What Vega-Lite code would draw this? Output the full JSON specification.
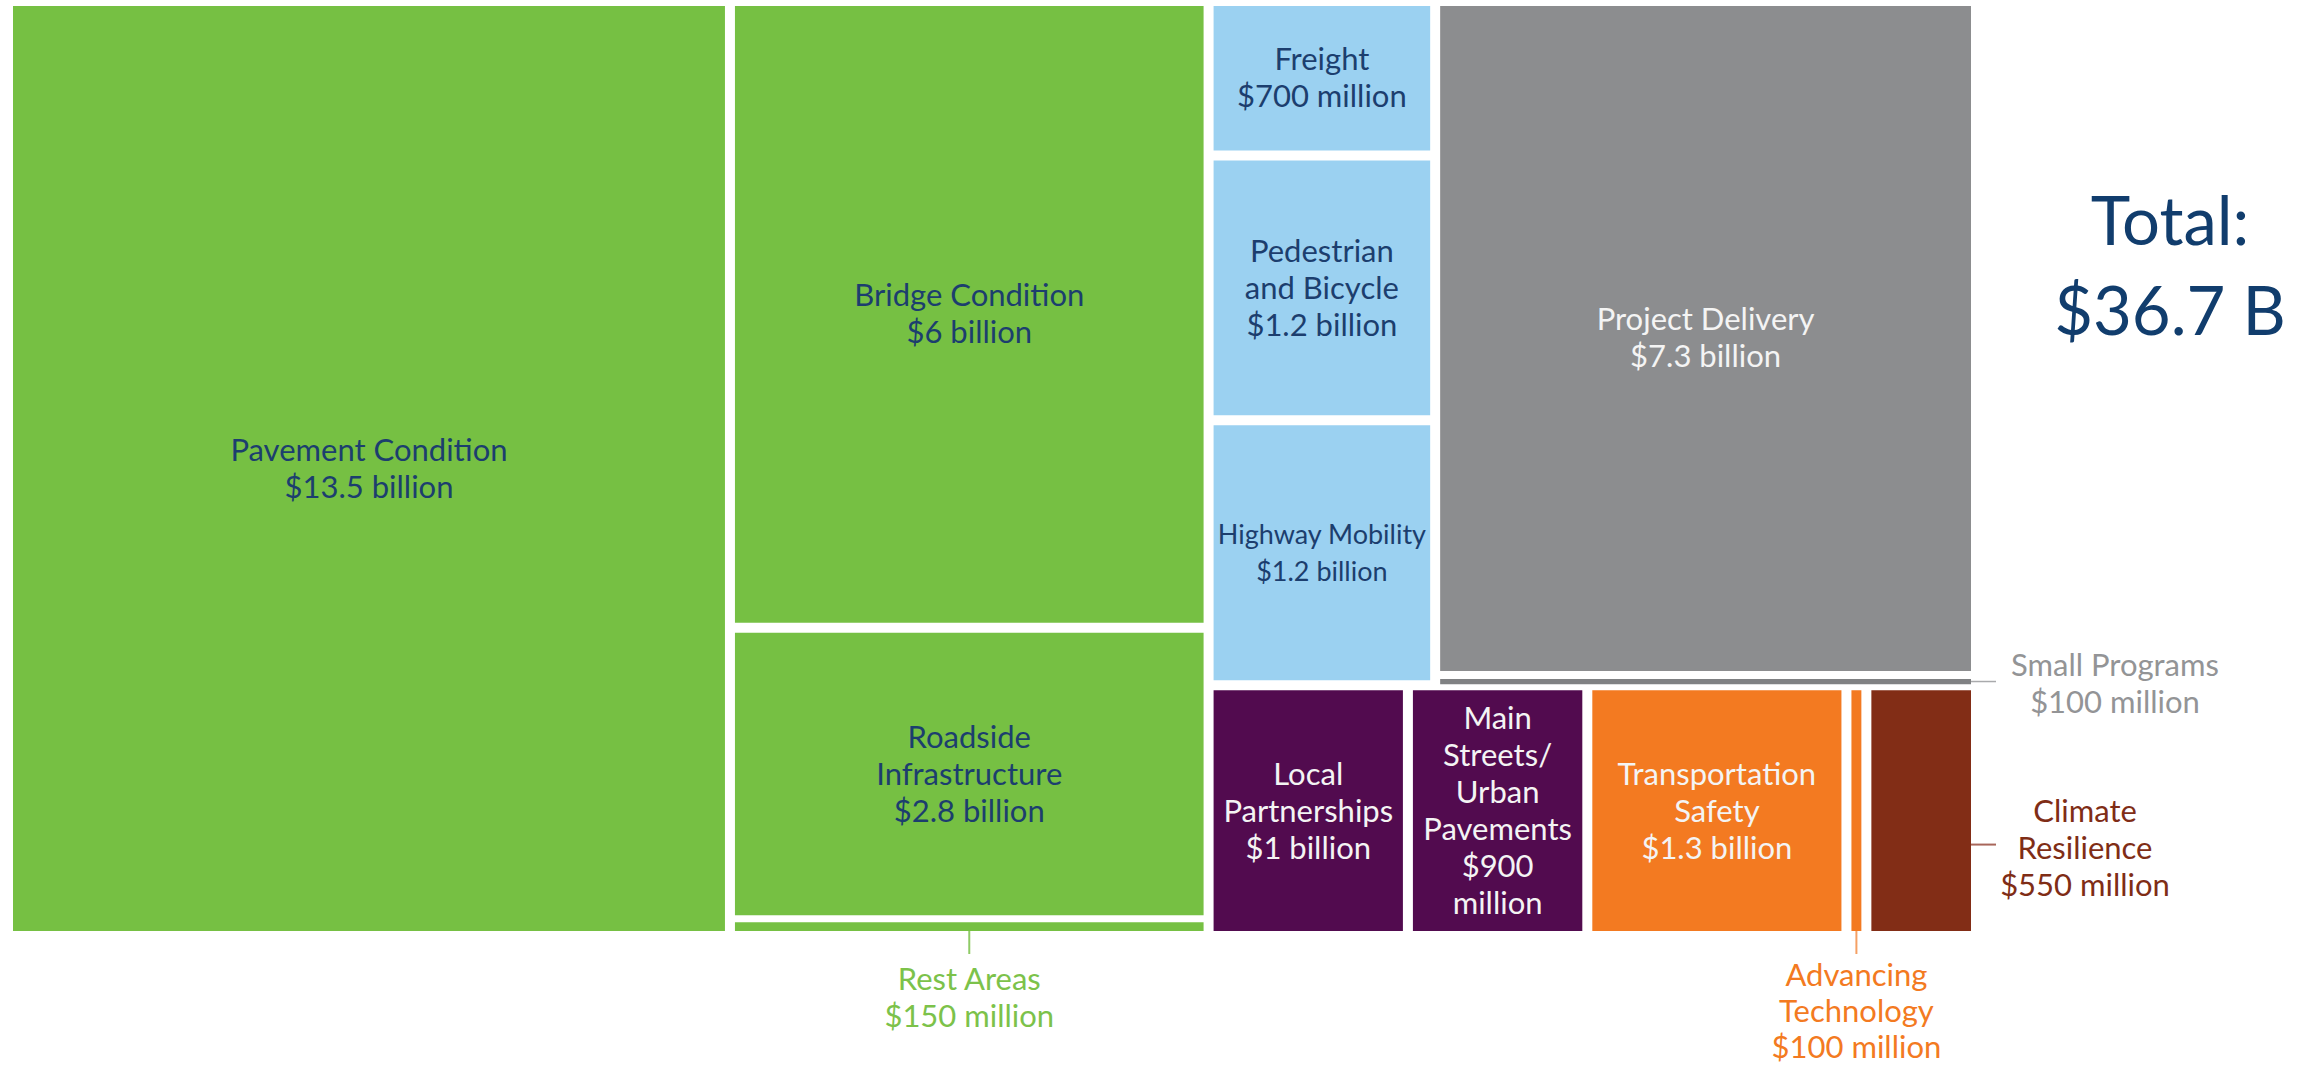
{
  "$schema": "https://vega.github.io/schema/vega-lite/v6.json",
  "width": 1968,
  "height": 935,
  "autosize": {"type": "none"},
  "padding": {"left": 8, "top": 1, "right": 342, "bottom": 133},
  "background": "#ffffff",
  "config": {"view": {"stroke": null}, "font": "Lato"},
  "title": {
    "text": ["Total:", "$36.7 B"],
    "orient": "top",
    "anchor": "end",
    "frame": "group",
    "align": "center",
    "baseline": "top",
    "offset": 0,
    "dx": 194,
    "dy": 348,
    "font": "Lato",
    "fontSize": 67,
    "fontWeight": "normal",
    "lineHeight": 90,
    "color": "#113d6d"
  },
  "data": {
    "values": [
      {"o": 1, "name": "Pavement Condition", "label": "Pavement Condition\n$13.5 billion", "value": 13.5, "group": "Asset condition", "col": "A", "band": "A", "sub": "A"},
      {"o": 2, "name": "Bridge Condition", "label": "Bridge Condition\n$6 billion", "value": 6, "group": "Asset condition", "col": "B", "band": "B", "sub": "B"},
      {"o": 3, "name": "Roadside Infrastructure", "label": "Roadside\nInfrastructure\n$2.8 billion", "value": 2.8, "group": "Asset condition", "col": "B", "band": "B", "sub": "B"},
      {"o": 4, "name": "Rest Areas", "label": "Rest Areas\n$150 million", "value": 0.15, "group": "Asset condition", "col": "B", "band": "B", "sub": "B"},
      {"o": 5, "name": "Freight", "label": "Freight\n$700 million", "value": 0.7, "group": "Mobility", "col": "C", "band": "top", "sub": "S1"},
      {"o": 6, "name": "Pedestrian and Bicycle", "label": "Pedestrian\nand Bicycle\n$1.2 billion", "value": 1.2, "group": "Mobility", "col": "C", "band": "top", "sub": "S1"},
      {"o": 7, "name": "Highway Mobility", "label": "Highway Mobility\n$1.2 billion", "value": 1.2, "group": "Mobility", "col": "C", "band": "top", "sub": "S1"},
      {"o": 8, "name": "Project Delivery", "label": "Project Delivery\n$7.3 billion", "value": 7.3, "group": "Delivery", "col": "C", "band": "top", "sub": "S2"},
      {"o": 9, "name": "Small Programs", "label": "Small Programs\n$100 million", "value": 0.1, "group": "Delivery", "col": "C", "band": "top", "sub": "S2"},
      {"o": 10, "name": "Local Partnerships", "label": "Local\nPartnerships\n$1 billion", "value": 1, "group": "Local", "col": "C", "band": "bottom", "sub": "L1"},
      {"o": 11, "name": "Main Streets/Urban Pavements", "label": "Main\nStreets/\nUrban\nPavements\n$900\nmillion", "value": 0.9, "group": "Local", "col": "C", "band": "bottom", "sub": "L2"},
      {"o": 12, "name": "Transportation Safety", "label": "Transportation\nSafety\n$1.3 billion", "value": 1.3, "group": "Safety and technology", "col": "C", "band": "bottom", "sub": "L3"},
      {"o": 13, "name": "Advancing Technology", "label": "Advancing\nTechnology\n$100 million", "value": 0.1, "group": "Safety and technology", "col": "C", "band": "bottom", "sub": "L4"},
      {"o": 14, "name": "Climate Resilience", "label": "Climate\nResilience\n$550 million", "value": 0.55, "group": "Resilience", "col": "C", "band": "bottom", "sub": "L5"}
    ]
  },
  "transform": [
    {"joinaggregate": [{"op": "sum", "field": "value", "as": "T"}]},
    {"joinaggregate": [{"op": "sum", "field": "value", "as": "CS"}], "groupby": ["col"]},
    {"joinaggregate": [{"op": "sum", "field": "value", "as": "BS"}], "groupby": ["col", "band"]},
    {"joinaggregate": [{"op": "sum", "field": "value", "as": "SS"}], "groupby": ["col", "band", "sub"]},
    {"window": [{"op": "sum", "field": "value", "as": "cA"}], "sort": [{"field": "o"}], "frame": [null, 0]},
    {"window": [{"op": "sum", "field": "value", "as": "cC"}], "groupby": ["col"], "sort": [{"field": "o"}], "frame": [null, 0]},
    {"window": [{"op": "sum", "field": "value", "as": "cB"}], "groupby": ["col", "band"], "sort": [{"field": "o"}], "frame": [null, 0]},
    {"window": [{"op": "sum", "field": "value", "as": "cS"}], "groupby": ["col", "band", "sub"], "sort": [{"field": "o"}], "frame": [null, 0]},
    {"calculate": "datum.cA - datum.value", "as": "pA"},
    {"calculate": "datum.cC - datum.value", "as": "pC"},
    {"calculate": "datum.cB - datum.value", "as": "pB"},
    {"joinaggregate": [{"op": "min", "field": "pA", "as": "colStart"}], "groupby": ["col"]},
    {"joinaggregate": [{"op": "min", "field": "pC", "as": "bandStart"}], "groupby": ["col", "band"]},
    {"joinaggregate": [{"op": "min", "field": "pB", "as": "subStart"}], "groupby": ["col", "band", "sub"]},
    {"calculate": "datum.colStart / datum.T", "as": "cx0"},
    {"calculate": "datum.CS / datum.T", "as": "cw"},
    {"calculate": "datum.bandStart / datum.CS", "as": "by0"},
    {"calculate": "datum.BS / datum.CS", "as": "bh"},
    {"calculate": "datum.cx0 + datum.cw * datum.subStart / datum.BS", "as": "x0"},
    {"calculate": "datum.cx0 + datum.cw * (datum.subStart + datum.SS) / datum.BS", "as": "x1"},
    {"calculate": "datum.by0 + datum.bh * (datum.cS - datum.value) / datum.SS", "as": "y0"},
    {"calculate": "datum.by0 + datum.bh * datum.cS / datum.SS", "as": "y1"},
    {"calculate": "(datum.x0 + datum.x1) / 2", "as": "xc"},
    {"calculate": "(datum.y0 + datum.y1) / 2", "as": "yc"},
    {"calculate": "length(split(datum.label, '\\n'))", "as": "nl"},
    {"calculate": "indexof(['Small Programs', 'Rest Areas', 'Advancing Technology', 'Climate Resilience'], datum.name) < 0", "as": "inside"}
  ],
  "layer": [
    {
      "transform": [{"filter": "datum.name !== 'Small Programs' && datum.name !== 'Rest Areas'"}],
      "mark": {"type": "rect", "xOffset": 5, "x2Offset": -5, "yOffset": 5, "y2Offset": -5},
      "encoding": {
        "x": {"field": "x0", "type": "quantitative", "scale": {"domain": [0, 1], "nice": false, "zero": false}, "axis": null},
        "x2": {"field": "x1"},
        "y": {"field": "y0", "type": "quantitative", "scale": {"domain": [0, 1], "nice": false, "zero": false, "reverse": true}, "axis": null},
        "y2": {"field": "y1"},
        "color": {
          "field": "group", "type": "nominal", "legend": null,
          "scale": {
            "domain": ["Asset condition", "Mobility", "Delivery", "Local", "Safety and technology", "Resilience"],
            "range": ["#76c043", "#9bd1f1", "#8c8d8f", "#520b4f", "#f37a21", "#822d16"]
          }
        }
      }
    },
    {
      "transform": [{"filter": "datum.name === 'Small Programs'"}],
      "mark": {"type": "rect", "xOffset": 5, "x2Offset": -5, "yOffset": 3, "y2Offset": -1, "color": "#808183"},
      "encoding": {
        "x": {"field": "x0", "type": "quantitative", "scale": {"domain": [0, 1], "nice": false, "zero": false}, "axis": null},
        "x2": {"field": "x1"},
        "y": {"field": "y0", "type": "quantitative", "scale": {"domain": [0, 1], "nice": false, "zero": false, "reverse": true}, "axis": null},
        "y2": {"field": "y1"}
      }
    },
    {
      "transform": [{"filter": "datum.name === 'Rest Areas'"}],
      "mark": {"type": "rect", "xOffset": 5, "x2Offset": -5, "yOffset": 2, "y2Offset": -5, "color": "#76c043"},
      "encoding": {
        "x": {"field": "x0", "type": "quantitative", "scale": {"domain": [0, 1], "nice": false, "zero": false}, "axis": null},
        "x2": {"field": "x1"},
        "y": {"field": "y0", "type": "quantitative", "scale": {"domain": [0, 1], "nice": false, "zero": false, "reverse": true}, "axis": null},
        "y2": {"field": "y1"}
      }
    },
    {
      "transform": [{"filter": "datum.inside && datum.nl === 2"}],
      "mark": {"type": "text", "align": "center", "baseline": "middle", "dy": -17, "font": "Lato", "fontSize": 31, "lineHeight": 37, "lineBreak": "\n"},
      "encoding": {
        "x": {"field": "xc", "type": "quantitative", "scale": {"domain": [0, 1], "nice": false, "zero": false}, "axis": null},
        "y": {"field": "yc", "type": "quantitative", "scale": {"domain": [0, 1], "nice": false, "zero": false, "reverse": true}, "axis": null},
        "text": {"field": "label"},
        "size": {"condition": {"test": "datum.name === 'Highway Mobility'", "value": 27}, "value": 31},
        "color": {
          "condition": {"test": "datum.group === 'Asset condition' || datum.group === 'Mobility'", "value": "#1c3e6e"},
          "value": "#f4f4f4"
        }
      }
    },
    {
      "transform": [{"filter": "datum.inside && datum.nl === 3"}],
      "mark": {"type": "text", "align": "center", "baseline": "middle", "dy": -35, "font": "Lato", "fontSize": 31, "lineHeight": 37, "lineBreak": "\n"},
      "encoding": {
        "x": {"field": "xc", "type": "quantitative", "scale": {"domain": [0, 1], "nice": false, "zero": false}, "axis": null},
        "y": {"field": "yc", "type": "quantitative", "scale": {"domain": [0, 1], "nice": false, "zero": false, "reverse": true}, "axis": null},
        "text": {"field": "label"},
        "color": {
          "condition": {"test": "datum.group === 'Asset condition' || datum.group === 'Mobility'", "value": "#1c3e6e"},
          "value": "#f4f4f4"
        }
      }
    },
    {
      "transform": [{"filter": "datum.inside && datum.nl === 6"}],
      "mark": {"type": "text", "align": "center", "baseline": "middle", "dy": -91, "font": "Lato", "fontSize": 31, "lineHeight": 37, "lineBreak": "\n", "color": "#f4f4f4"},
      "encoding": {
        "x": {"field": "xc", "type": "quantitative", "scale": {"domain": [0, 1], "nice": false, "zero": false}, "axis": null},
        "y": {"field": "yc", "type": "quantitative", "scale": {"domain": [0, 1], "nice": false, "zero": false, "reverse": true}, "axis": null},
        "text": {"field": "label"}
      }
    },
    {
      "transform": [{"filter": "datum.name === 'Rest Areas'"}],
      "mark": {"type": "text", "align": "center", "baseline": "top", "dy": 30, "font": "Lato", "fontSize": 31, "lineHeight": 37, "lineBreak": "\n", "color": "#7cc24a"},
      "encoding": {
        "x": {"field": "xc", "type": "quantitative", "scale": {"domain": [0, 1], "nice": false, "zero": false}, "axis": null},
        "y": {"field": "y1", "type": "quantitative", "scale": {"domain": [0, 1], "nice": false, "zero": false, "reverse": true}, "axis": null},
        "text": {"field": "label"}
      }
    },
    {
      "transform": [{"filter": "datum.name === 'Rest Areas'"}],
      "mark": {"type": "rule", "yOffset": -5, "y2Offset": 18, "strokeWidth": 2, "color": "#8fcb66"},
      "encoding": {
        "x": {"field": "xc", "type": "quantitative", "scale": {"domain": [0, 1], "nice": false, "zero": false}, "axis": null},
        "y": {"field": "y1", "type": "quantitative", "scale": {"domain": [0, 1], "nice": false, "zero": false, "reverse": true}, "axis": null},
        "y2": {"field": "y1"}
      }
    },
    {
      "transform": [{"filter": "datum.name === 'Advancing Technology'"}],
      "mark": {"type": "text", "align": "center", "baseline": "top", "dy": 26, "font": "Lato", "fontSize": 31, "lineHeight": 36, "lineBreak": "\n", "color": "#f37a21"},
      "encoding": {
        "x": {"field": "xc", "type": "quantitative", "scale": {"domain": [0, 1], "nice": false, "zero": false}, "axis": null},
        "y": {"field": "y1", "type": "quantitative", "scale": {"domain": [0, 1], "nice": false, "zero": false, "reverse": true}, "axis": null},
        "text": {"field": "label"}
      }
    },
    {
      "transform": [{"filter": "datum.name === 'Advancing Technology'"}],
      "mark": {"type": "rule", "yOffset": -5, "y2Offset": 18, "strokeWidth": 2, "color": "#f5a064"},
      "encoding": {
        "x": {"field": "xc", "type": "quantitative", "scale": {"domain": [0, 1], "nice": false, "zero": false}, "axis": null},
        "y": {"field": "y1", "type": "quantitative", "scale": {"domain": [0, 1], "nice": false, "zero": false, "reverse": true}, "axis": null},
        "y2": {"field": "y1"}
      }
    },
    {
      "transform": [{"filter": "datum.name === 'Small Programs'"}],
      "mark": {"type": "text", "align": "center", "baseline": "middle", "dx": 139, "dy": -14, "font": "Lato", "fontSize": 31, "lineHeight": 37, "lineBreak": "\n", "color": "#939496"},
      "encoding": {
        "x": {"field": "x1", "type": "quantitative", "scale": {"domain": [0, 1], "nice": false, "zero": false}, "axis": null},
        "y": {"field": "yc", "type": "quantitative", "scale": {"domain": [0, 1], "nice": false, "zero": false, "reverse": true}, "axis": null},
        "text": {"field": "label"}
      }
    },
    {
      "transform": [{"filter": "datum.name === 'Small Programs'"}],
      "mark": {"type": "rule", "xOffset": -5, "x2Offset": 20, "yOffset": 1, "y2Offset": 1, "strokeWidth": 1.5, "color": "#a9aaac"},
      "encoding": {
        "x": {"field": "x1", "type": "quantitative", "scale": {"domain": [0, 1], "nice": false, "zero": false}, "axis": null},
        "x2": {"field": "x1"},
        "y": {"field": "yc", "type": "quantitative", "scale": {"domain": [0, 1], "nice": false, "zero": false, "reverse": true}, "axis": null}
      }
    },
    {
      "transform": [{"filter": "datum.name === 'Climate Resilience'"}],
      "mark": {"type": "text", "align": "center", "baseline": "middle", "dx": 109, "dy": 2, "font": "Lato", "fontSize": 31, "lineHeight": 37, "lineBreak": "\n", "color": "#7f2d16"},
      "encoding": {
        "x": {"field": "x1", "type": "quantitative", "scale": {"domain": [0, 1], "nice": false, "zero": false}, "axis": null},
        "y": {"field": "yc", "type": "quantitative", "scale": {"domain": [0, 1], "nice": false, "zero": false, "reverse": true}, "axis": null},
        "text": {"field": "label"}
      }
    },
    {
      "transform": [{"filter": "datum.name === 'Climate Resilience'"}],
      "mark": {"type": "rule", "xOffset": -5, "x2Offset": 20, "yOffset": 34, "y2Offset": 34, "strokeWidth": 2, "color": "#a8665a"},
      "encoding": {
        "x": {"field": "x1", "type": "quantitative", "scale": {"domain": [0, 1], "nice": false, "zero": false}, "axis": null},
        "x2": {"field": "x1"},
        "y": {"field": "yc", "type": "quantitative", "scale": {"domain": [0, 1], "nice": false, "zero": false, "reverse": true}, "axis": null}
      }
    }
  ]
}
